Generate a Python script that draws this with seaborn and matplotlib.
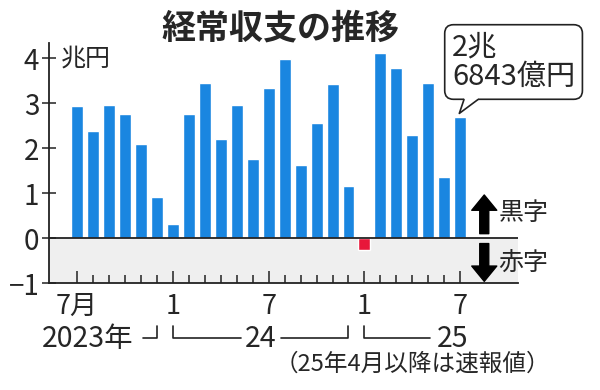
import numpy as np
import pandas as pd
import matplotlib
matplotlib.use("Agg")
import matplotlib.pyplot as plt
import matplotlib.transforms as mtrans
from matplotlib.patches import Polygon
from matplotlib.lines import Line2D
import seaborn as sns

# ---- data ----
months = ["2023-07", "2023-08", "2023-09", "2023-10", "2023-11", "2023-12",
          "2024-01", "2024-02", "2024-03", "2024-04", "2024-05", "2024-06",
          "2024-07", "2024-08", "2024-09", "2024-10", "2024-11", "2024-12",
          "2025-01", "2025-02", "2025-03", "2025-04", "2025-05", "2025-06",
          "2025-07"]
values = [2.93, 2.38, 2.95, 2.77, 2.10, 0.91,
          0.31, 2.76, 3.46, 2.20, 2.96, 1.77,
          3.34, 3.99, 1.62, 2.55, 3.43, 1.15,
          -0.26, 4.12, 3.78, 2.29, 3.45, 1.35,
          2.6843]
tick_positions = [0, 6, 12, 18, 24]
tick_labels = ["7月", "1", "7", "1", "7"]
ytick_values = [-1, 0, 1, 2, 3, 4]
ytick_labels = ["−1", "0", "1", "2", "3", "4"]
title = "経常収支の推移"
unit_label = "兆円"
callout = "2兆\n6843億円"
note = "（25年4月以降は速報値）"

sns.set_theme(style="white")
plt.rcParams["font.family"] = ["Noto Sans CJK JP", "DejaVu Sans"]
plt.rcParams["axes.unicode_minus"] = True

df = pd.DataFrame({"month": months, "value": values})
df["sign"] = np.where(df["value"] >= 0, "pos", "neg")

DPI = 100
fig = plt.figure(figsize=(6.0, 3.9), dpi=DPI)
ax = fig.add_axes([0.0817, 0.274, 0.7813, 0.617])

ax.axhspan(-1, 0, color="#efefef", zorder=0, lw=0)
sns.barplot(data=df, x="month", y="value", hue="sign", order=months,
            palette={"pos": "#1a86e0", "neg": "#e8173a"}, dodge=False,
            width=0.75, legend=False, ax=ax, zorder=2, saturation=1)
ax.axhline(0, color="#222222", lw=1.3, zorder=3)

ax.set_xlim(-1.75, 27.6)
ax.set_ylim(-1, 4.35)
ax.set_xlabel("")
ax.set_ylabel("")

for s in ["top", "right"]:
    ax.spines[s].set_visible(False)
for s in ["left", "bottom"]:
    ax.spines[s].set_color("#222222")
    ax.spines[s].set_linewidth(1.3)

ax.set_xticks(range(len(months)), minor=True)
ax.set_xticks(tick_positions)
ax.set_xticklabels(tick_labels, fontsize=19.5)
ax.tick_params(axis="x", which="major", direction="in", length=9, width=1.1,
               color="#222222", pad=7, bottom=True)
ax.tick_params(axis="x", which="minor", direction="in", length=6, width=1.1,
               color="#222222", bottom=True)
ax.set_yticks(ytick_values)
ax.set_yticklabels(ytick_labels, fontsize=20)
ax.tick_params(axis="y", direction="inout", length=10, width=1.1,
               color="#222222", pad=2, left=True)

# unit label
ax.text(0.025, 4, unit_label,
        transform=mtrans.blended_transform_factory(ax.transAxes, ax.transData),
        fontsize=18, va="center", ha="left")

# title
fig.text(0.468, 0.928, title, fontsize=24.5, fontweight="bold", ha="center", va="center")

# year row with brackets
bt = mtrans.blended_transform_factory(ax.transData, fig.transFigure)
y_top, y_bot = (390 - 326) / 390, (390 - 338) / 390
y_txt = (390 - 339) / 390
lk = dict(color="#222222", lw=1.2, transform=bt, clip_on=False)
ax.plot([4.15, 5, 5], [y_bot, y_bot, y_top], **lk)
ax.plot([6, 6, 10.3], [y_top, y_bot, y_bot], **lk)
ax.plot([12.8, 17, 17], [y_bot, y_bot, y_top], **lk)
ax.plot([18, 18, 22.1], [y_top, y_bot, y_bot], **lk)
ax.text(0.65, y_txt, "2023年", transform=bt, fontsize=20.5, ha="center", va="center")
ax.text(11.5, y_txt, "24", transform=bt, fontsize=20.5, ha="center", va="center")
ax.text(23.5, y_txt, "25", transform=bt, fontsize=20.5, ha="center", va="center")

fig.text(0.687, (390 - 364) / 390, note, fontsize=17, ha="center", va="center")

# arrows
arr = dict(arrowstyle="simple,head_width=1.8,head_length=1.1,tail_width=0.65",
           color="black", shrinkA=0, shrinkB=0, mutation_scale=10)
ax.annotate("", xy=(25.5, 0.96), xytext=(25.5, 0.1), arrowprops=arr, annotation_clip=False)
ax.annotate("", xy=(25.5, -0.96), xytext=(25.5, -0.12), arrowprops=arr, annotation_clip=False)
ax.text(26.4, 0.55, "黒字", fontsize=18, va="center", ha="left", clip_on=False)
ax.text(26.4, -0.55, "赤字", fontsize=18, va="center", ha="left", clip_on=False)

# callout box
fig.text(452 / 600, (390 - 62) / 390, callout, fontsize=21, ha="left", va="center",
         linespacing=1.0, zorder=5,
         bbox=dict(boxstyle="round,pad=0.25,rounding_size=0.3", fc="white",
                   ec="#222222", lw=1.2))

# pointer from callout box to last bar (display coords)
fig.canvas.draw()
tip = ax.transData.transform((24, values[-1]))
tip = (tip[0] - 1, tip[1] + 4)
H = 390
base_y = H - 99.5
bl = (464, base_y)
br = (478, base_y)
fig.add_artist(Polygon([bl, (bl[0], base_y + 3), (br[0], base_y + 3), br, tip],
                       closed=True, fc="white", ec="none",
                       transform=mtrans.IdentityTransform(), zorder=6))
fig.add_artist(Line2D([bl[0], tip[0], br[0]], [bl[1], tip[1], br[1]],
                      color="#222222", lw=1.2,
                      transform=mtrans.IdentityTransform(), zorder=7))

fig.savefig("out.png", dpi=DPI)
